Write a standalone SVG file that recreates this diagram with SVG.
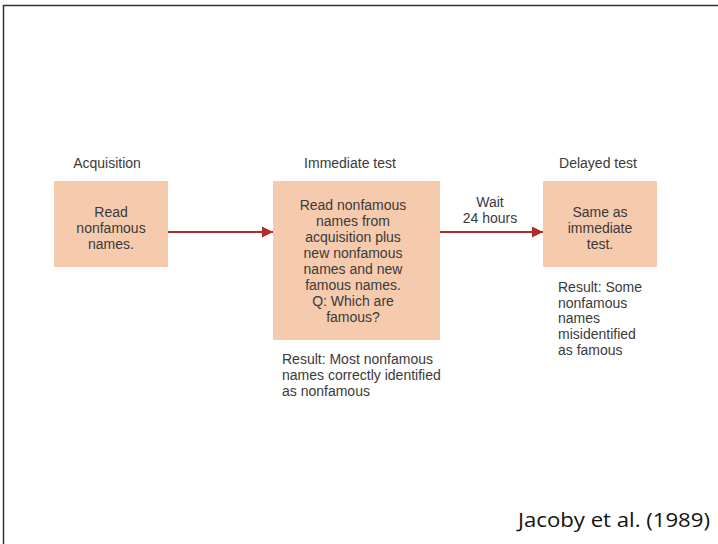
<svg xmlns="http://www.w3.org/2000/svg" width="718" height="544" viewBox="0 0 718 544">
<style>
text{font-family:"Liberation Sans",Arial,sans-serif;font-size:14px;fill:#3a3a3a}
.c{text-anchor:middle}
.box{fill:#f6caad}
.conn{stroke:#b22a2a;stroke-width:2;fill:none}
</style>
<defs>
<marker id="ah" viewBox="0 0 10 10" refX="10" refY="5" markerWidth="5.5" markerHeight="5.5" orient="auto" markerUnits="strokeWidth">
<path d="M0,0 L10,5 L0,10 z" fill="#b22a2a"/>
</marker>
</defs>
<rect x="0" y="0" width="718" height="544" fill="#fff"/>
<path d="M3.5,544 V5.5 H718" fill="none" stroke="#333" stroke-width="1.5"/>
<g id="connectors">
<line class="conn" x1="168" y1="232" x2="273" y2="232" marker-end="url(#ah)"/>
<line class="conn" x1="440" y1="232" x2="543" y2="232" marker-end="url(#ah)"/>
<text class="c" x="490" y="207">Wait</text>
<text class="c" x="490" y="223">24 hours</text>
</g>
<g id="acquisition">
<text class="c" x="107" y="168">Acquisition</text>
<rect class="box" x="54" y="181" width="114" height="86"/>
<text class="c" x="111" y="217">Read</text>
<text class="c" x="111" y="233">nonfamous</text>
<text class="c" x="111" y="249">names.</text>
</g>
<g id="immediate">
<text class="c" x="350" y="168">Immediate test</text>
<rect class="box" x="273" y="181" width="167" height="159"/>
<text class="c" x="353" y="210">Read nonfamous</text>
<text class="c" x="353" y="226">names from</text>
<text class="c" x="353" y="242">acquisition plus</text>
<text class="c" x="353" y="258">new nonfamous</text>
<text class="c" x="353" y="274">names and new</text>
<text class="c" x="353" y="290">famous names.</text>
<text class="c" x="353" y="306">Q: Which are</text>
<text class="c" x="353" y="322">famous?</text>
<text x="282" y="364">Result: Most nonfamous</text>
<text x="282" y="380">names correctly identified</text>
<text x="282" y="396">as nonfamous</text>
</g>
<g id="delayed">
<text class="c" x="598" y="168">Delayed test</text>
<rect class="box" x="543" y="181" width="114" height="86"/>
<text class="c" x="600" y="217">Same as</text>
<text class="c" x="600" y="233">immediate</text>
<text class="c" x="600" y="249">test.</text>
<text x="558" y="292">Result: Some</text>
<text x="558" y="308">nonfamous</text>
<text x="558" y="323">names</text>
<text x="558" y="339">misidentified</text>
<text x="558" y="355">as famous</text>
</g>
<text x="518" y="527" textLength="192" lengthAdjust="spacingAndGlyphs" style="font-family:'Open Sans','Liberation Sans',sans-serif;font-size:20px;fill:#111">Jacoby et al. (1989)</text>
</svg>
